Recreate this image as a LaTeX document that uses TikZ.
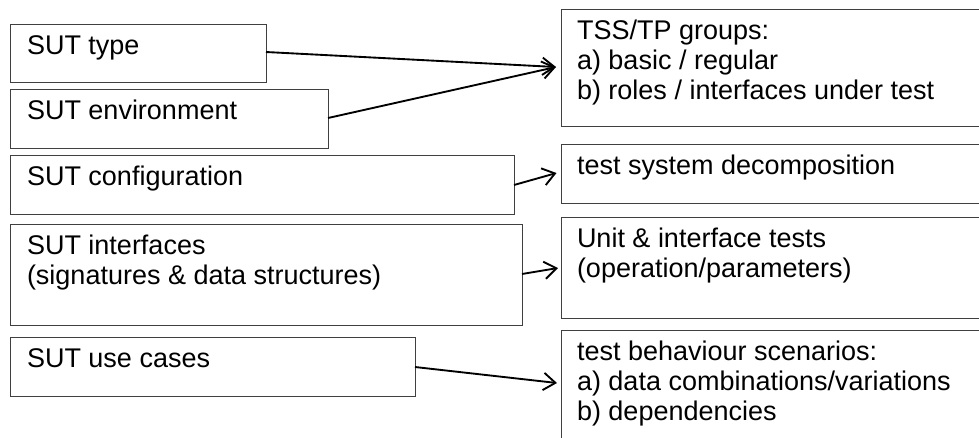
\documentclass[tikz,border=0pt]{standalone}
\usepackage{fontspec}
\setmainfont{Liberation Sans}
\usetikzlibrary{arrows.meta,calc}
\tikzset{
  box/.style={draw=black!75, line width=0.75pt, anchor=north west, inner sep=0pt, outer sep=0pt, rectangle},
  txt/.style={anchor=north west, inner sep=0pt, outer sep=0pt, align=left, font=\fontsize{20.25pt}{22.5pt}\selectfont},
  arr/.style={line width=1.4pt, -{Straight Barb[length=9pt,width=13pt,line width=1.4pt]}}
}
\newcommand{\fs}{\rule{0pt}{15.75pt}}
\begin{document}
\begin{tikzpicture}[x=0.75pt,y=-0.75pt]
\useasboundingbox (0,0) rectangle (979,437);
\clip (0,0) rectangle (979,437);
% left boxes
\node[box, minimum width=256*0.75pt, minimum height=58*0.75pt] (type) at (10,24) {};
\node[box, minimum width=318*0.75pt, minimum height=59*0.75pt] (env) at (10,89) {};
\node[box, minimum width=504*0.75pt, minimum height=59*0.75pt] (conf) at (10,155) {};
\node[box, minimum width=512*0.75pt, minimum height=101*0.75pt] (intf) at (10,224) {};
\node[box, minimum width=405*0.75pt, minimum height=59*0.75pt] (use) at (10,337) {};
% right boxes (cut off at the right edge)
\node[box, minimum width=440*0.75pt, minimum height=117*0.75pt] (tss) at (561,9) {};
\node[box, minimum width=440*0.75pt, minimum height=59*0.75pt] (dec) at (561,144) {};
\node[box, minimum width=440*0.75pt, minimum height=101*0.75pt] (unit) at (561,217) {};
\node[box, minimum width=440*0.75pt, minimum height=130*0.75pt] (beh) at (561,330) {};
% texts
\node[txt] (ttype) at ($(type.north west)+(17,9)$) {\fs SUT type};
\node[txt] (tenv) at ($(env.north west)+(17,9)$) {\fs SUT environment};
\node[txt] (tconf) at ($(conf.north west)+(17,9)$) {\fs SUT configuration};
\node[txt] (tintf) at ($(intf.north west)+(17,9)$) {\fs SUT interfaces\\\fs(signatures \& data structures)};
\node[txt] (tuse) at ($(use.north west)+(17,9)$) {\fs SUT use cases};
\node[txt] (ttss) at ($(tss.north west)+(16,9)$) {\fs TSS/TP groups:\\\fs a) basic / regular\\\fs b) roles / interfaces under test};
\node[txt] (tdec) at ($(dec.north west)+(16,9)$) {\fs test system decomposition};
\node[txt] (tunit) at ($(unit.north west)+(16,9)$) {\fs Unit \& interface tests\\\fs(operation/parameters)};
\node[txt] (tbeh) at ($(beh.north west)+(16,9)$) {\fs test behaviour scenarios:\\\fs a) data combinations/variations\\\fs b) dependencies};
% connectors
\coordinate (tipA) at ($(tss.north west)+(-5,58)$);
\draw[arr] ($(type.north east)+(0,28)$) -- (tipA);
\draw[arr] ($(env.north east)+(0,29)$) -- (tipA);
\draw[arr] ($(conf.north east)+(0,30)$) -- ($(dec.north west)+(-4.5,29)$);
\draw[arr] ($(intf.north east)+(0,50)$) -- ($(unit.north west)+(-3,51)$);
\draw[arr] ($(use.north east)+(0,30)$) -- ($(beh.north west)+(-4,53)$);
\end{tikzpicture}
\end{document}
